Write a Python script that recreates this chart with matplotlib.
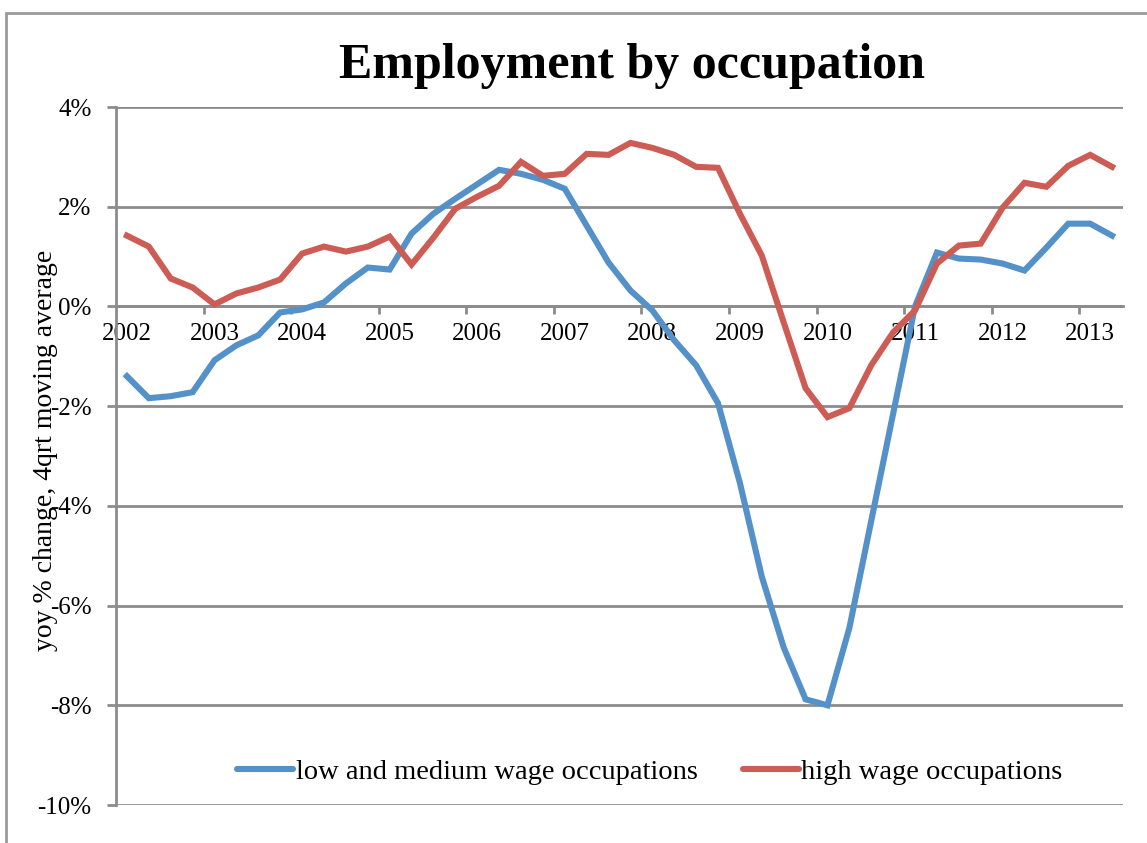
import matplotlib
matplotlib.use("Agg")
import matplotlib.pyplot as plt
import matplotlib.patches as patches

# quarterly, 2002Q1 .. 2013Q2
years = list(range(2002, 2014))
low_medium = [-1.40, -1.84, -1.80, -1.72, -1.08, -0.78, -0.58, -0.12, -0.06, 0.08,
              0.46, 0.78, 0.74, 1.46, 1.86, 2.16, 2.45, 2.74, 2.66, 2.54,
              2.36, 1.62, 0.88, 0.32, -0.08, -0.68, -1.18, -1.94, -3.54, -5.42,
              -6.84, -7.88, -8.00, -6.45, -4.30, -2.15, 0.00, 1.08, 0.96, 0.94,
              0.86, 0.72, 1.18, 1.66, 1.66, 1.42]
high = [1.42, 1.20, 0.56, 0.38, 0.04, 0.26, 0.38, 0.54, 1.06, 1.20,
        1.10, 1.20, 1.40, 0.84, 1.38, 1.96, 2.20, 2.42, 2.90, 2.62,
        2.66, 3.06, 3.04, 3.28, 3.18, 3.04, 2.80, 2.78, 1.86, 1.02,
        -0.32, -1.64, -2.22, -2.04, -1.18, -0.52, -0.08, 0.86, 1.22, 1.26,
        1.98, 2.48, 2.40, 2.82, 3.04, 2.80]
y_ticks = [-10, -8, -6, -4, -2, 0, 2, 4]

plt.rcParams['font.family'] = ['Liberation Serif', 'DejaVu Serif']
grey = '#8c8c8c'
blue = '#5591c9'
red = '#cd5c54'

fig = plt.figure(figsize=(11.47, 8.43), dpi=100)
W, H = 1147, 843
ax = fig.add_axes([116 / W, 1 - 805 / H, 1007 / W, 698 / H])

n = len(low_medium)
x = list(range(n))
ax.plot(x, low_medium, color=blue, lw=4.4, solid_joinstyle='miter',
        label='low and medium wage occupations', zorder=3)
ax.plot(x, high, color=red, lw=4.4, solid_joinstyle='miter',
        label='high wage occupations', zorder=3)

ax.set_xlim(-0.5, n - 0.5)
ax.set_ylim(-10, 4)
ax.set_yticks(y_ticks)
ax.set_yticklabels([f'{v}%' for v in y_ticks])
ax.yaxis.grid(True, color=grey, lw=2)
ax.set_axisbelow(True)

for s in ['top', 'right']:
    ax.spines[s].set_visible(False)
ax.spines['left'].set_color(grey)
ax.spines['left'].set_linewidth(2)
ax.spines['bottom'].set_position(('data', 0))
ax.spines['bottom'].set_color(grey)
ax.spines['bottom'].set_linewidth(2)

ax.tick_params(axis='y', direction='out', length=6.5, width=2, color=grey,
               pad=11, labelsize=18)
# year labels on each Q1, tick marks between categories
ax.set_xticks([4 * i for i in range(len(years))])
ax.set_xticklabels([str(y) for y in years])
ax.set_xticks([4 * i - 0.5 for i in range(1, len(years))], minor=True)
ax.tick_params(axis='x', which='major', length=0, pad=12, labelsize=18)
ax.tick_params(axis='x', which='minor', direction='out', length=6, width=2, color=grey)

leg = ax.legend(loc='center', bbox_to_anchor=(650 / W, 1 - 772 / H),
                bbox_transform=fig.transFigure, ncol=2, frameon=False,
                fontsize=20.5, handlelength=1.95, handletextpad=0.1, columnspacing=1.6)
for line in leg.get_lines():
    line.set_solid_capstyle('round')

fig.text(632 / W, 1 - 66 / H, 'Employment by occupation', ha='center', va='center',
         fontsize=36, fontweight='bold')
fig.text(46 / W, 1 - 450 / H, 'yoy % change, 4qrt moving average', ha='center',
         va='center', rotation=90, fontsize=20)

fig.patches.append(patches.Rectangle((6 / W, -0.1), 1.2, 1.1 - 13 / H,
                                     transform=fig.transFigure, fill=False,
                                     edgecolor='#9a9a9a', lw=2))

fig.savefig('out.png', dpi=100)
